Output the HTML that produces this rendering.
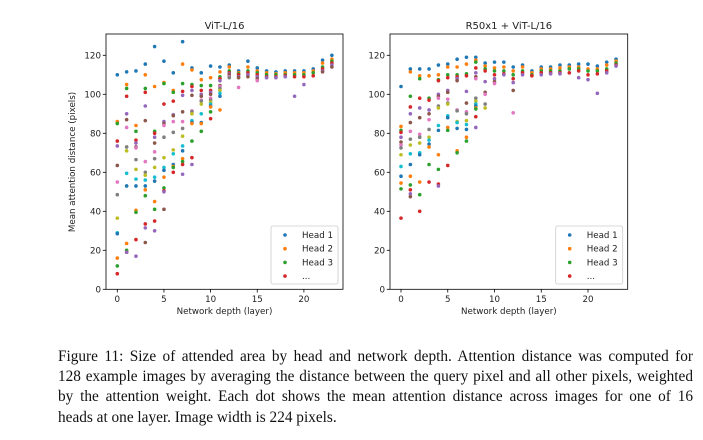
<!DOCTYPE html>
<html><head><meta charset="utf-8">
<style>
html,body{margin:0;padding:0;background:#fff;}
body{width:703px;height:440px;position:relative;overflow:hidden;}
svg text{font-family:"DejaVu Sans","Liberation Sans",sans-serif;fill:#222;}
#cap{position:absolute;left:58px;top:347px;width:635px;font-family:"Liberation Serif",serif;font-size:15.3px;line-height:20.2px;color:#111;}
#cap .l{white-space:nowrap;text-align:justify;text-align-last:justify;}
#cap .last{white-space:nowrap;text-align:left;}
</style></head>
<body>
<svg id="chart" width="703" height="340" style="position:absolute;left:0;top:0"></svg>
<div id="cap"><div class="l">Figure 11: Size of attended area by head and network depth. Attention distance was computed for</div><div class="l">128 example images by averaging the distance between the query pixel and all other pixels, weighted</div><div class="l">by the attention weight. Each dot shows the mean attention distance across images for one of 16</div><div class="last">heads at one layer. Image width is 224 pixels.</div></div>
<script>
const layers=[0,1,2,3,4,5,6,7,8,9,10,11,12,13,14,15,16,17,18,19,20,21,22,23];
const xTicks=[0,5,10,15,20];
const yTicks=[0,20,40,60,80,100,120];
const legendLabels=["Head 1","Head 2","Head 3","..."];
const palette=["#1f77b4","#ff7f0e","#2ca02c","#d62728","#9467bd","#8c564b","#e377c2","#7f7f7f","#bcbd22","#17becf"];
const vitValues=[
[110,86,85,76,73.5,63.5,55,48.5,36.5,29,28.5,16,12,8],
[111.5,105,103,99,90,87,83,73,71,59.5,53,23.5,20,19,19],
[112,84,81,76.5,75,73,72.5,66.5,61.5,56.5,53,40.5,39.5,25.5,17],
[115.5,110,103,101,94,86.5,65.5,60,58.5,56,53,51,48,33.5,31.5,24],
[124.5,104,81,80,78,75,70.5,67,62.5,57.5,55.5,45,41,35,30],
[117,106,105.5,95,86,85,84,78,67.5,62.5,61,57.5,52,50.5,50,41],
[111,102,101,96.5,89.5,89,86,80.5,71.5,69.5,64,63,62.5,60],
[127,115.5,105.5,101.5,99.5,91,86,82.5,78.5,73.5,71,67,65.5,64,59],
[113.5,112.5,105,104,102,99.5,91.5,91,90,86.5,85.5,85,76,67.5,64],
[111,107.5,104.5,102,100,99,97,96.5,95,90,85.5,85,81],
[114.5,108.5,104.5,102,101,100,98,97,96,95,94,93.5,91,87.5],
[114,111.5,109,108,107,104.5,104,103,102,100.5,99,92],
[115,114,112,111,110.5,110,109,108.5],
[112,111,110.5,110,109,108.5,103.5],
[117,114,112,111,110,109],
[113.5,112,111,110,109,108,107],
[112,111,110,109,108.5],
[111.5,110.5,110,109,108.5],
[112,111,110,109.5,109],
[112,111,110,109,99],
[112,111,110,109,105],
[113,112,111,109.5],
[117.5,116,114,113,112,111.5],
[120,118,117,116,115,114]
];
const hybValues=[
[104,83.5,81.5,80.5,78,75.5,74,72.5,69,63,58,54.5,51.5,36.5],
[113,111.5,99,93.5,90,85.5,81,77,74,69.5,64,58,53.5,51,49,47.5],
[113,109.5,108,98,93,88,79.5,78,75,70,69,55,48.5,40],
[113,109.5,98,97,92,90,87,82,78,76.5,74.5,73,64,55],
[115,110,107.5,107,100,99,98,94,93,84,81.5,69,61.5,54,53],
[115.5,114,110,108.5,102,101,97.5,95.5,95,89,88,83,81.5,63.5],
[118,114,110,109,108,107,92,91.5,86,85.5,82.5,71,70],
[119,115.5,110.5,109.5,101.5,95.5,91,90,86.5,84.5,82,78,76],
[119,117.5,116.5,113.5,111,109,108,98,96.5,95,94,93,92.5,88.5,83],
[116,114.5,113,112,106.5,101,100,95,93],
[116.5,113.5,112,110,108,106.5,105.5],
[116.5,114,112,110.5,110],
[114,112,110,108,106,102,90.5],
[115,114,112,111,110],
[112,111,110,109.5],
[114,113,112,111,110],
[114,113,112,111,110.5],
[115,113.5,112,111,110.5],
[115,114,113,111],
[115.5,114,113,112,108.5],
[115.5,113,112,110,107.5],
[114.5,113,112,110.5,100.5],
[116.5,115,113,112,111],
[118,117,116,115,114.5]
];
const NS="http://www.w3.org/2000/svg";
const svg=document.getElementById('chart');
function mk(tag,attrs,parent){const e=document.createElementNS(NS,tag);for(const k in attrs)e.setAttribute(k,attrs[k]);(parent||svg).appendChild(e);return e;}
function panel(opt){
  const g=mk('g',{});
  
  
  const x=v=>opt.x0+v*opt.xs;
  const y=v=>289.3-v*1.95;
  const frame=mk('rect',{x:opt.left,y:34,width:opt.right-opt.left,height:255.3,fill:'none',stroke:'#000','stroke-width':0.8},g);
  
  
  xTicks.forEach(t=>{
    mk('line',{x1:x(t),x2:x(t),y1:289.3,y2:292.5,stroke:'#000','stroke-width':0.8},g);
    const tx=mk('text',{x:x(t),y:302,'font-size':8.7,'text-anchor':'middle'},g);tx.textContent=t;
    
    
  });
  yTicks.forEach(t=>{
    mk('line',{x1:opt.left-3.2,x2:opt.left,y1:y(t),y2:y(t),stroke:'#000','stroke-width':0.8},g);
    const tx=mk('text',{x:opt.left-5,y:y(t)+3,'font-size':8.7,'text-anchor':'end'},g);tx.textContent=t;
    
    
  });
  opt.values.forEach((arr,li)=>{
    arr.forEach((v,hi)=>{
      const c=mk('circle',{cx:x(layers[li]),cy:y(v),r:1.8,fill:palette[hi%10]},g);
      
      
    });
  });
  const tt=mk('text',{x:(opt.left+opt.right)/2,y:29,'font-size':10,'text-anchor':'middle'},g);tt.textContent=opt.title;
  
  
  const xl=mk('text',{x:(opt.left+opt.right)/2,y:314,'font-size':8.7,'text-anchor':'middle'},g);xl.textContent='Network depth (layer)';
  
  
  if(opt.ylabel){
    const yl=mk('text',{x:0,y:0,'font-size':8.7,'text-anchor':'middle',transform:'translate(75,162) rotate(-90)'},g);yl.textContent=opt.ylabel;
    
    
  }
  const lg=mk('g',{},g);
  
  
  mk('rect',{x:opt.right-72,y:226,width:67,height:58,rx:2,fill:'#fff','fill-opacity':0.8,stroke:'#ccc','stroke-width':0.8},lg);
  legendLabels.forEach((lab,i)=>{
    const yy=235+i*13.7;
    mk('circle',{cx:opt.right-58,cy:yy,r:1.8,fill:palette[i]},lg);
    const t=mk('text',{x:opt.right-41,y:yy+3,'font-size':8.7},lg);t.textContent=lab;
    
    
  });
}
panel({name:'vit-l16-chart',title:'ViT-L/16',values:vitValues,left:106,right:343,x0:117.3,xs:9.33,ylabel:'Mean attention distance (pixels)'});
panel({name:'r50-vit-chart',title:'R50x1 + ViT-L/16',values:hybValues,left:390,right:627.7,x0:401,xs:9.35});
</script>
</body></html>
